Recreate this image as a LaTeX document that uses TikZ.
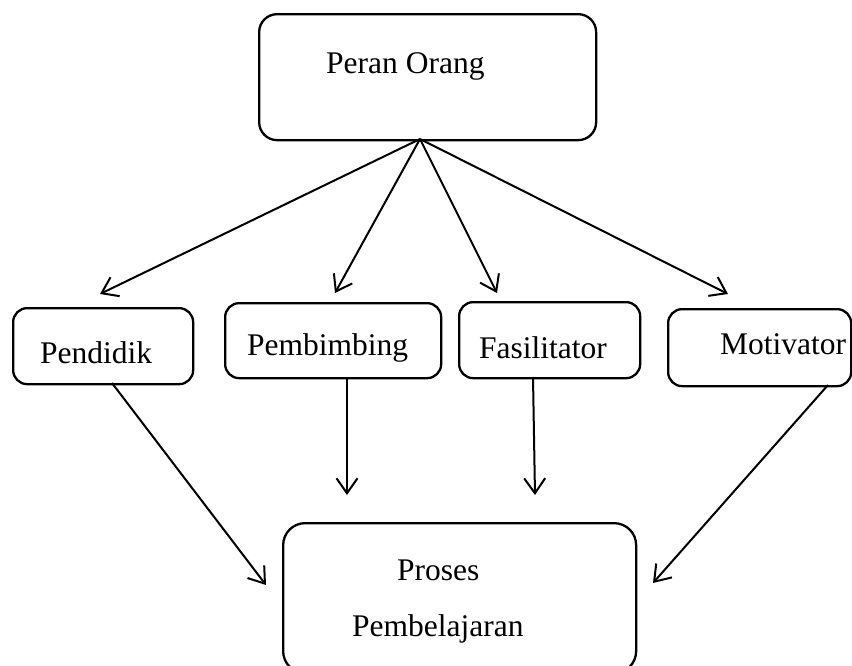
\documentclass[tikz,border=0pt]{standalone}
\usepackage{fontspec}
\setmainfont{Liberation Serif}
\usetikzlibrary{positioning,arrows.meta}

\tikzset{
  box/.style={draw, line width=2.3pt, rounded corners=18pt, anchor=north west, inner sep=0pt},
  txt/.style={anchor=base west, inner sep=0pt, font=\fontsize{31.5}{36}\selectfont},
  arr/.style={line width=2pt, -{Straight Barb[length=15pt,width=21pt,line width=2pt]}}
}

\begin{document}
\begin{tikzpicture}[x=1pt,y=-1pt]
        \useasboundingbox (0,0) rectangle (852,665);

        % kotak
        \node[box, minimum width=337pt, minimum height=126pt] (peran) at (258,13) {};
        \node[box, rounded corners=14pt, minimum width=180pt, minimum height=76pt] (pendidik) at (12,307) {};
        \node[box, rounded corners=14pt, minimum width=216pt, minimum height=75pt] (pembimbing) at (224,302) {};
        \node[box, rounded corners=14pt, minimum width=181pt, minimum height=76pt] (fasilitator) at (458,301) {};
        \node[box, rounded corners=14pt, minimum width=183pt, minimum height=77pt] (motivator) at (667,308) {};
        \node[box, rounded corners=22pt, minimum width=353pt, minimum height=150pt] (proses) at (282,522) {};

        % teks
        \node[txt] (peranT) at (326,73) {Peran Orang};
        \node[txt] (pendidikT) at (40,363) {Pendidik};
        \node[txt] (pembimbingT) at (247,355) {Pembimbing};
        \node[txt] (fasilitatorT) at (479,358) {Fasilitator};
        \node[txt] (motivatorT) at (720,354) {Motivator};
        \node[txt] (prosesT) at (397,580) {Proses};
        \node[txt] (belajarT) at (352,636) {Pembelajaran};

        % titik ujung panah
        \coordinate (hub) at (420,139);
        \coordinate (toPendidik) at (100,294);
        \coordinate (toPembimbing) at (335,293);
        \coordinate (toFasilitator) at (497,293);
        \coordinate (toMotivator) at (728,294);
        \coordinate (fromPendidik) at (112,383);
        \coordinate (fromPembimbing) at (347,377);
        \coordinate (fromFasilitator) at (533,377);
        \coordinate (fromMotivator) at (828,385);
        \coordinate (inKiri) at (266,585);
        \coordinate (inTengahA) at (347,495);
        \coordinate (inTengahB) at (535,495);
        \coordinate (inKanan) at (653,583);

        \draw[arr] (hub) -- (toPendidik);
        \draw[arr] (hub) -- (toPembimbing);
        \draw[arr] (hub) -- (toFasilitator);
        \draw[arr] (hub) -- (toMotivator);

        \draw[arr] (fromPendidik) -- (inKiri);
        \draw[arr] (fromPembimbing) -- (inTengahA);
        \draw[arr] (fromFasilitator) -- (inTengahB);
        \draw[arr] (fromMotivator) -- (inKanan);
\end{tikzpicture}
\end{document}
